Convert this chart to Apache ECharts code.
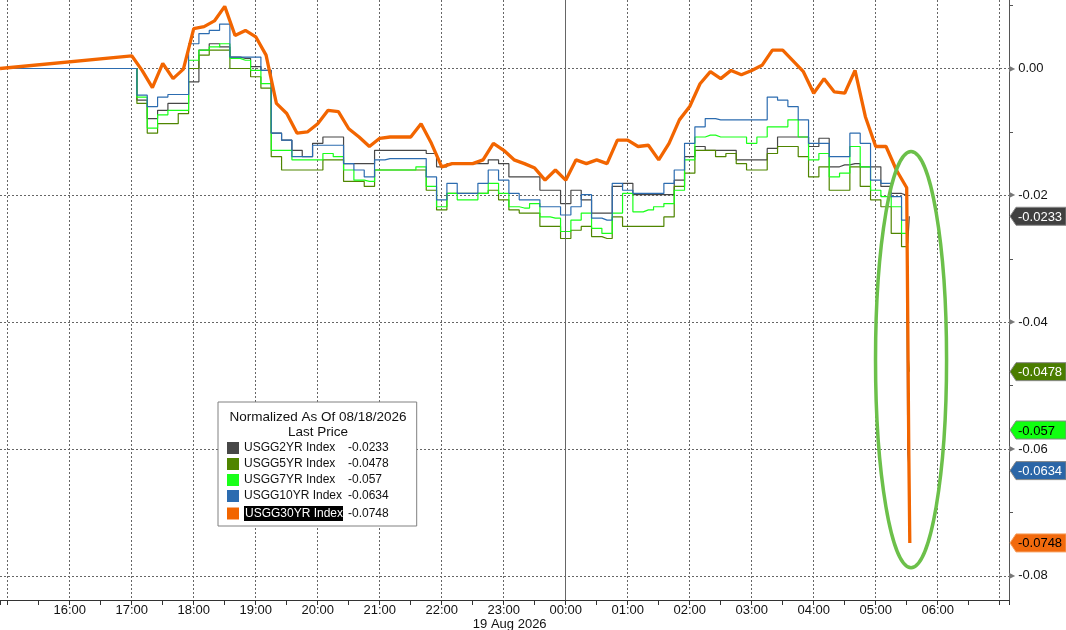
<!DOCTYPE html>
<html>
<head>
<meta charset="utf-8">
<title>USGG normalized</title>
<script src="https://cdn.jsdelivr.net/npm/echarts@6.0.0/dist/echarts.min.js"></script>
<style>
html,body{margin:0;padding:0;background:#fff;}
#main{width:1066px;height:630px;}
</style>
</head>
<body>
<div id="main"></div>
<script>
// minutes after 17:00 (18 Aug 2026); the first point is the left edge of the window
var minutes = [-127.5,
  0,10,20,30,40,50,60,70,80,90,
  100,110,120,130,140,150,160,170,180,190,
  200,210,220,230,240,250,260,270,280,290,
  300,310,320,330,340,350,360,370,380,390,
  400,410,420,430,440,450,460,470,480,490,
  500,510,520,530,540,550,560,570,580,590,
  600,610,620,630,640,650,660,670,680,690,
  700,710,720,730,740,750,752,753];

var names = ['USGG2YR Index','USGG5YR Index','USGG7YR Index','USGG10YR Index','USGG30YR Index'];
var lastPrice = ['-0.0233','-0.0478','-0.057','-0.0634','-0.0748'];
var hourLabels = ['','16:00','17:00','18:00','19:00','20:00','21:00','22:00','23:00',
  '00:00','01:00','02:00','03:00','04:00','05:00','06:00',''];

var usgg2 = [0,
  0,-0.0050,-0.0079,-0.0066,-0.0055,-0.0055,-0.0021,0.0029,0.0039,0.0034,
  0.0018,0.0016,0.0003,-0.0003,-0.0102,-0.0113,-0.0129,-0.0139,-0.0118,-0.0108,
  -0.0108,-0.0150,-0.0150,-0.0150,-0.0129,-0.0129,-0.0129,-0.0129,-0.0129,-0.0134,
  -0.0155,-0.0150,-0.0150,-0.0150,-0.0150,-0.0144,-0.0150,-0.0171,-0.0171,-0.0171,
  -0.0192,-0.0192,-0.0213,-0.0192,-0.0207,-0.0228,-0.0228,-0.0186,-0.0181,-0.0199,
  -0.0199,-0.0199,-0.0199,-0.0176,-0.0139,-0.0123,-0.0129,-0.0129,-0.0129,-0.0144,
  -0.0144,-0.0144,-0.0126,-0.0108,-0.0108,-0.0108,-0.0123,-0.0110,-0.0155,-0.0152,
  -0.0150,-0.0155,-0.0155,-0.0186,-0.0197,-0.0200,-0.0276,-0.0233];
var usgg5 = [0,
  0,-0.0055,-0.0102,-0.0087,-0.0087,-0.0071,0,0.0021,0.0029,0.0029,
  0,0,-0.0013,-0.0031,-0.0139,-0.0160,-0.0160,-0.0160,-0.0160,-0.0144,
  -0.0144,-0.0178,-0.0178,-0.0186,-0.0160,-0.0160,-0.0160,-0.0160,-0.0160,-0.0192,
  -0.0223,-0.0197,-0.0197,-0.0197,-0.0197,-0.0192,-0.0207,-0.0223,-0.0228,-0.0228,
  -0.0249,-0.0249,-0.0268,-0.0255,-0.0249,-0.0265,-0.0268,-0.0234,-0.0249,-0.0249,
  -0.0249,-0.0249,-0.0234,-0.0186,-0.0165,-0.0129,-0.0129,-0.0139,-0.0134,-0.0150,
  -0.0160,-0.0160,-0.0134,-0.0123,-0.0123,-0.0139,-0.0171,-0.0155,-0.0192,-0.0192,
  -0.0155,-0.0186,-0.0207,-0.0218,-0.0260,-0.0281,-0.0443,-0.0478];
var usgg7 = [0,
  0,-0.0045,-0.0094,-0.0073,-0.0066,-0.0066,0.0013,0.0029,0.0034,0.0039,
  0.0016,0.0013,-0.0003,-0.0024,-0.0129,-0.0129,-0.0144,-0.0144,-0.0144,-0.0134,
  -0.0139,-0.0160,-0.0176,-0.0178,-0.0160,-0.0160,-0.0160,-0.0160,-0.0155,-0.0186,
  -0.0218,-0.0197,-0.0207,-0.0207,-0.0197,-0.0181,-0.0197,-0.0218,-0.0220,-0.0213,
  -0.0234,-0.0236,-0.0257,-0.0239,-0.0228,-0.0252,-0.0260,-0.0228,-0.0197,-0.0226,
  -0.0223,-0.0218,-0.0213,-0.0192,-0.0144,-0.0108,-0.0105,-0.0108,-0.0108,-0.0108,
  -0.0118,-0.0108,-0.0092,-0.0092,-0.0081,-0.0108,-0.0144,-0.0134,-0.0171,-0.0165,
  -0.0123,-0.0155,-0.0192,-0.0202,-0.0218,-0.0260,-0.0504,-0.0570];
var usgg10 = [0,
  0,-0.0042,-0.0060,-0.0045,-0.0041,-0.0041,0.0039,0.0055,0.0060,0.0070,
  0.0018,0.0018,0.0018,-0.0003,-0.0102,-0.0113,-0.0139,-0.0139,-0.0121,-0.0121,
  -0.0121,-0.0150,-0.0160,-0.0171,-0.0144,-0.0142,-0.0142,-0.0142,-0.0142,-0.0171,
  -0.0207,-0.0181,-0.0197,-0.0197,-0.0181,-0.0160,-0.0176,-0.0197,-0.0207,-0.0207,
  -0.0218,-0.0218,-0.0231,-0.0218,-0.0199,-0.0236,-0.0239,-0.0181,-0.0192,-0.0197,
  -0.0197,-0.0197,-0.0181,-0.0160,-0.0118,-0.0092,-0.0079,-0.0081,-0.0081,-0.0081,
  -0.0081,-0.0081,-0.0045,-0.0050,-0.0060,-0.0081,-0.0118,-0.0118,-0.0139,-0.0139,
  -0.0102,-0.0118,-0.0176,-0.0181,-0.0202,-0.0239,-0.0606,-0.0634];
var usgg30 = [0,
  0.0020,-0.0003,-0.0030,0.0008,-0.0016,-0.0001,0.0063,0.0066,0.0075,0.0098,
  0.0052,0.0060,0.0050,0.0021,-0.0055,-0.0071,-0.0102,-0.0100,-0.0087,-0.0066,
  -0.0068,-0.0095,-0.0108,-0.0123,-0.0110,-0.0108,-0.0108,-0.0108,-0.0087,-0.0118,
  -0.0155,-0.0150,-0.0150,-0.0150,-0.0144,-0.0118,-0.0129,-0.0144,-0.0150,-0.0157,
  -0.0176,-0.0160,-0.0176,-0.0144,-0.0150,-0.0144,-0.0150,-0.0113,-0.0113,-0.0123,
  -0.0121,-0.0144,-0.0118,-0.0081,-0.0060,-0.0024,-0.0005,-0.0016,-0.0003,-0.0010,
  -0.0003,0.0005,0.0029,0.0029,0.0012,-0.0005,-0.0039,-0.0016,-0.0037,-0.0039,
  -0.0003,-0.0076,-0.0123,-0.0123,-0.0160,-0.0188,-0.0600,-0.0748];

var lineColors = ['#474747','#4f8500','#19ff19','#2c6cb0','#f26500'];
var badgeFill = ['#404040','#4a7d00','#10ff10','#2b66a7','#f26a0d'];
var badgeText = ['#fff','#fff','#000','#fff','#000'];

var xMin = -2.125, xMax = 14.15;   // hours after 17:00
var font = 'Liberation Sans, Arial, sans-serif';

function pairs(vals){
	var out = [];
	for (var i = 0; i < minutes.length; i++) {
		out.push([minutes[i] / 60, vals[i]]);
	}
	return out;
}

var myChart = echarts.init(document.getElementById('main'));
var all = [usgg2, usgg5, usgg7, usgg10, usgg30];
var series = [];
for (var i = 0; i < all.length; i++) {
	var thick = (i == 4);
	series.push({
		name: names[i],
		type: 'line',
		data: pairs(all[i]),
		showSymbol: false,
		step: thick ? false : 'middle',
		color: lineColors[i],
		lineStyle: {width: thick ? 3.3 : 1.2, color: lineColors[i]},
		z: 2 + i,
		silent: true
	});
}
// day boundary
series[0].markLine = {
	silent: true,
	symbol: ['none','none'],
	label: {show: false},
	lineStyle: {type: 'solid', color: '#666', width: 1},
	data: [{xAxis: 7}]
};

myChart.setOption({
	animation: false,
	backgroundColor: '#fff',
	grid: {left: 0, right: 57, top: 0, bottom: 30},
	xAxis: {
		type: 'value',
		min: xMin,
		max: xMax,
		splitNumber: 16,
		axisLine: {onZero: false, lineStyle: {color: '#333'}},
		axisTick: {length: 5, lineStyle: {color: '#333'}},
		minorTick: {show: true, splitNumber: 2, length: 5, lineStyle: {color: '#333'}},
		splitLine: {show: true, showMinLine: false, showMaxLine: false,
			lineStyle: {type: [2,2], color: '#666'}},
		axisLabel: {
			showMinLabel: false, showMaxLabel: false,
			margin: 4, fontSize: 13, color: '#111', fontFamily: font,
			formatter: function(v){
				var k = Math.round(v) + 2;
				if (Math.abs(v - Math.round(v)) > 1e-6) return '';
				return hourLabels[k] || '';
			}
		}
	},
	yAxis: {
		type: 'value',
		position: 'right',
		min: -0.0838,
		max: 0.0108,
		splitNumber: 5,
		axisLine: {show: true, onZero: false, lineStyle: {color: '#555'}},
		axisTick: {show: false},
		minorTick: {show: true, splitNumber: 2, length: 4, lineStyle: {color: '#555'}},
		splitLine: {show: true, showMinLine: false, showMaxLine: false,
			lineStyle: {type: [2,2], color: '#666'}},
		axisLabel: {
			showMinLabel: false, showMaxLabel: false,
			margin: 0, fontFamily: font,
			formatter: function(v){
				var s = Math.abs(v) < 1e-9 ? '0.00' : v.toFixed(2);
				return '{t|\u25B6}{v|' + s + '}';
			},
			rich: {
				t: {fontSize: 8, color: '#777', padding: [0,3,0,0], fontFamily: 'DejaVu Sans'},
				v: {fontSize: 13, color: '#111', fontFamily: font}
			}
		}
	},
	legend: {
		data: names,
		orient: 'vertical',
		left: 218,
		top: 402,
		icon: 'rect',
		itemWidth: 12,
		itemHeight: 12,
		itemGap: 4,
		padding: [40, 28, 5, 9],
		backgroundColor: '#fff',
		borderColor: '#808080',
		borderWidth: 1,
		selectedMode: false,
		formatter: function(name){
			var i = names.indexOf(name);
			if (i == 4) return '{h|' + name + '}{s|}{v|' + lastPrice[i] + '}';
			return '{n|' + name + '}{v|' + lastPrice[i] + '}';
		},
		textStyle: {
			fontSize: 12, color: '#111', fontFamily: font,
			rich: {
				n: {width: 104, fontSize: 12, color: '#111', fontFamily: font},
				h: {width: 98, fontSize: 12, color: '#fff', backgroundColor: '#000',
					padding: [2,0,1,1], fontFamily: font},
				s: {width: 5},
				v: {width: 64, fontSize: 12, color: '#111', fontFamily: font}
			}
		}
	},
	series: series
});

// annotations: legend title, date, last price tags and the ellipse
function py(v){ return myChart.convertToPixel({yAxisIndex: 0}, v); }
function px(h){ return myChart.convertToPixel({xAxisIndex: 0}, h); }

var edge = px(xMax);
var graphics = [
	{type: 'text', x: 318, y: 417, z: 100,
		style: {text: 'Normalized As Of 08/18/2026', font: '13.5px ' + font, fill: '#111',
			align: 'center', verticalAlign: 'middle'}},
	{type: 'text', x: 318, y: 432, z: 100,
		style: {text: 'Last Price', font: '13.5px ' + font, fill: '#111',
			align: 'center', verticalAlign: 'middle'}},
	{type: 'text', x: px(7) - 56, y: 624, z: 100,
		style: {text: '19 Aug 2026', font: '13px ' + font, fill: '#111',
			align: 'center', verticalAlign: 'middle'}}
];
for (var j = 0; j < lastPrice.length; j++) {
	var y = py(parseFloat(lastPrice[j]));
	graphics.push({
		type: 'polygon', z: 100,
		shape: {points: [[edge + 1, y], [edge + 7, y - 9], [1066, y - 9], [1066, y + 9], [edge + 7, y + 9]]},
		style: {fill: badgeFill[j], stroke: j == 4 ? '#f7a060' : '#888', lineWidth: 1}
	});
	graphics.push({
		type: 'text', z: 101, x: edge + 9, y: y + 1,
		style: {text: lastPrice[j], font: '13px ' + font, fill: badgeText[j],
			align: 'left', verticalAlign: 'middle'}
	});
}
// ellipse around the final drop (centre 05:33, -0.0459)
var cx = px(12.57), cy = py(-0.0459);
graphics.push({
	type: 'ellipse', z: 50, silent: true,
	shape: {cx: cx, cy: cy, rx: px(12.57 + 0.573) - cx, ry: py(-0.0459 - 0.0328) - cy},
	style: {fill: 'none', stroke: '#6cc04a', lineWidth: 3.5}
});
myChart.setOption({graphic: graphics});
</script>
</body>
</html>
